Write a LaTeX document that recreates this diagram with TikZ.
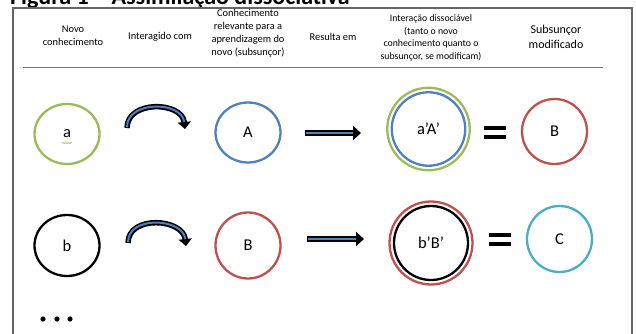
\documentclass[tikz,border=0pt]{standalone}
\usepackage{fontspec}
\setmainfont{Carlito}
\usetikzlibrary{shapes.geometric,arrows.meta,decorations.pathmorphing}

\definecolor{ogreen}{RGB}{155,187,89}
\definecolor{oblue}{RGB}{79,129,189}
\definecolor{ored}{RGB}{192,80,77}
\definecolor{oaqua}{RGB}{75,172,198}

\tikzset{
	ring/.style={ellipse, draw, line width=2.3pt, minimum width=65pt, minimum height=60pt, inner sep=0pt, font=\fontsize{16.5}{18}\selectfont},
	dring/.style={circle, draw, line width=2.3pt, minimum size=#1, inner sep=0pt, font=\fontsize{16.5}{18}\selectfont},
	colhead/.style={align=center, font=\fontsize{10.4}{13}\selectfont},
	curvearrow/.style={line width=5.5pt, -{Triangle[length=7pt,width=13pt]}},
	curveinner/.style={line width=2pt, oblue, shorten >=7pt, shorten <=0.8pt},
	flatarrow/.style={line width=6pt, -{Triangle[length=8pt,width=14pt]}},
	flatinner/.style={line width=2.2pt, oblue, shorten >=8pt, shorten <=1pt}
}

\begin{document}
\begin{tikzpicture}[x=1pt, y=-1pt]
	\useasboundingbox (0,0) rectangle (636,334);

	%caption (cut at the top)
	\node [anchor=base west, inner sep=0pt, font=\bfseries\fontsize{24}{26}\selectfont] (title) at (10,4.5) {Figura 1 – Assimilação dissociativa};

	%frame
	\draw [black!60, line width=1.2pt] (13,345) -- (13,8) -- (632,8) -- (632,345);
	\draw [black!55, line width=1pt] (23,68) -- (603,68);

	%column heads
	\node [colhead] (h1) at (73,36) {Novo\\conhecimento};
	\node [colhead] (h2) at (160,37) {Interagido com};
	\node [colhead] (h3) at (248,33) {Conhecimento\\relevante para a\\aprendizagem do\\novo (subsunçor)};
	\node [colhead] (h4) at (333,37) {Resulta em};
	\node [colhead, font=\fontsize{9.8}{12.4}\selectfont] (h5) at (431,38) {Interação dissociável\\(tanto o novo\\conhecimento quanto o\\subsunçor, se modificam)};
	\node [colhead, font=\fontsize{12}{15}\selectfont] (h6) at (556,37) {Subsunçor\\modificado};

	%first row
	\node [ring, ogreen, text=black] (a1) at (67,134) {a};
	\node [ring, oblue, text=black] (A1) at (248,132.5) {A};
	\node [dring=82.5pt, ogreen] (aAout) at (428.5,129) {};
	\node [dring=73.5pt, oblue, text=black] (aA1) at (428.5,129) {a’A’};
	\node [ring, ored, text=black, minimum height=65pt] (B1) at (554.5,131.5) {B};
	\draw [ogreen, line width=0.5pt, decorate, decoration={zigzag, segment length=1.5pt, amplitude=0.5pt}] (62,143) -- (72,143);

	%second row
	\node [ring, text=black, minimum height=61pt] (b2) at (67,245.5) {b};
	\node [ring, ored, text=black, minimum height=66pt] (B2) at (248,245.5) {B};
	\node [dring=83pt, ored] (bBout) at (431,243) {};
	\node [dring=74pt, black] (bB2) at (431,243) {b’B’};
	\node [ring, oaqua, text=black, minimum width=65pt, minimum height=66pt] (C2) at (559.5,239) {C};

	%arrows
	\coordinate (c1s) at (127,128);
	\coordinate (c1e) at (185,129);
	\coordinate (c2s) at (128,243);
	\coordinate (c2e) at (186,246);
	\foreach \s/\e in {c1s/c1e, c2s/c2e} {
		\draw [curvearrow] (\s) .. controls +(0,-28) and +(-3,-28) .. (\e);
		\draw [curveinner] (\s) .. controls +(0,-28) and +(-3,-28) .. (\e);
	}
	\coordinate (f1s) at (305,133);
	\coordinate (f1e) at (361,133);
	\coordinate (f2s) at (307,239);
	\coordinate (f2e) at (364,239);
	\foreach \s/\e in {f1s/f1e, f2s/f2e} {
		\draw [flatarrow] (\s) -- (\e);
		\draw [flatinner] (\s) -- (\e);
	}

	%equal signs
	\foreach \x/\y in {484/126, 484/135, 489/233, 489/242}
		\fill [black] (\x,\y) rectangle ++(22,4.2);

	%dots
	\foreach \x in {43, 57, 70}
		\fill [black] (\x,319) circle (2.6);

\end{tikzpicture}
\end{document}
